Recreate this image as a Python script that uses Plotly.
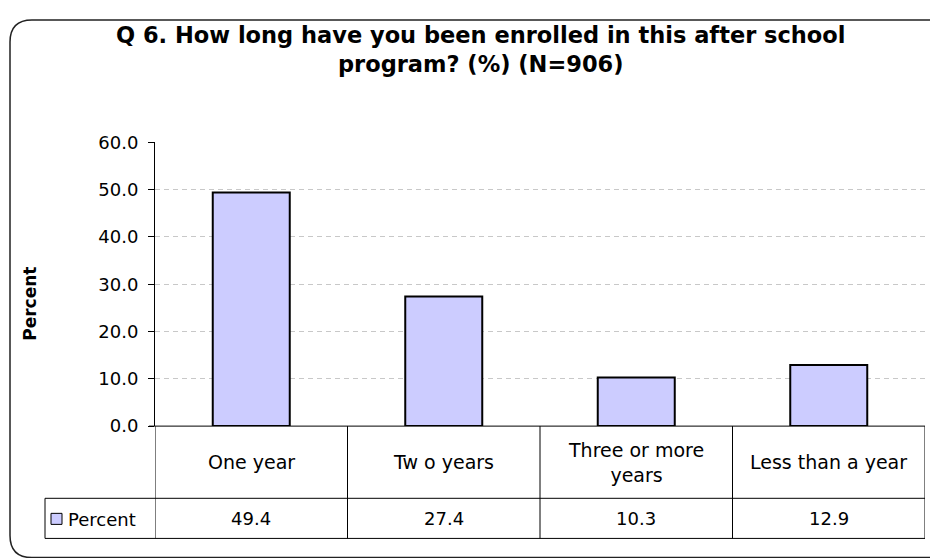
import plotly.graph_objects as go

categories = ["One year", "Two years", "Three or more years", "Less than a year"]
table_labels = ["One year", "Tw o years", "Three or more<br>years", "Less than a year"]
values = [49.4, 27.4, 10.3, 12.9]
series_name = "Percent"
title_text = "Q 6. How long have you been enrolled in this after school<br>program? (%) (N=906)"
y_title = "Percent"

# figure size and calibration of where the figure lands on the page
W, H = 930, 562
OX, OY, SY = 8, 19, 0.96

def px(x):
    return (x - OX) / W

def py(y):
    return 1 - ((y - OY) / SY) / H

FONT = "DejaVu Sans, Liberation Sans, Arial, sans-serif"
BAR_FILL = "#CCCCFF"

x_left, x_right = 155, 925
y_top, y_zero = 142, 425
row1_bottom, row2_bottom = 497, 537
legend_left = 45
n = len(categories)

fig = go.Figure()
fig.add_trace(go.Bar(
    x=list(range(n)), y=values, width=0.4,
    marker=dict(color=BAR_FILL, line=dict(color="black", width=2)),
    name=series_name, showlegend=False, hoverinfo="y",
))

shapes = []
# outer rounded border (right edge runs off the picture)
x0b, y0b, x1b, y1b, r = 10, 20, 950, 556, 22
def P(x, y):
    return f"{px(x)},{py(y)}"
path = (f"M {P(x0b+r,y0b)} L {P(x1b-r,y0b)} Q {P(x1b,y0b)} {P(x1b,y0b+r)} "
        f"L {P(x1b,y1b-r)} Q {P(x1b,y1b)} {P(x1b-r,y1b)} L {P(x0b+r,y1b)} "
        f"Q {P(x0b,y1b)} {P(x0b,y1b-r)} L {P(x0b,y0b+r)} Q {P(x0b,y0b)} {P(x0b+r,y0b)} Z")
shapes.append(dict(type="path", path=path, xref="paper", yref="paper",
                   line=dict(color="#222222", width=1.5), layer="below"))

line_style = dict(color="black", width=1)
for i in range(n + 1):
    shapes.append(dict(type="line", xref="x", yref="paper",
                       x0=i - 0.5, x1=i - 0.5, y0=py(y_zero), y1=py(row2_bottom), line=line_style))
shapes.append(dict(type="line", xref="paper", yref="paper", x0=px(x_left - 6), x1=px(x_right),
                   y0=py(y_zero), y1=py(y_zero), line=line_style))
for yy in (row1_bottom, row2_bottom):
    shapes.append(dict(type="line", xref="paper", yref="paper", x0=px(legend_left), x1=px(x_right),
                       y0=py(yy), y1=py(yy), line=line_style))
shapes.append(dict(type="line", xref="paper", yref="paper", x0=px(legend_left), x1=px(legend_left),
                   y0=py(row1_bottom), y1=py(row2_bottom), line=line_style))
shapes.append(dict(type="rect", xref="paper", yref="paper", x0=px(51), x1=px(62),
                   y0=py(523), y1=py(512), fillcolor=BAR_FILL, line=dict(color="black", width=1)))

annotations = []
annotations.append(dict(text=f"<b>{title_text}</b>", xref="paper", yref="paper", x=px(480), y=py(49),
                        showarrow=False, font=dict(family=FONT, size=22.5, color="black"),
                        xanchor="center", yanchor="middle", align="center"))
annotations.append(dict(text=f"<b>{y_title}</b>", xref="paper", yref="paper", x=px(30), y=py(303),
                        showarrow=False, textangle=-90, font=dict(family=FONT, size=17, color="black"),
                        xanchor="center", yanchor="middle"))
for i, lab in enumerate(table_labels):
    annotations.append(dict(text=lab, xref="x", yref="paper", x=i, y=py((y_zero + row1_bottom) / 2),
                            showarrow=False, font=dict(family=FONT, size=19, color="black"),
                            xanchor="center", yanchor="middle", align="center"))
    annotations.append(dict(text=f"{values[i]:.1f}", xref="x", yref="paper", x=i,
                            y=py((row1_bottom + row2_bottom) / 2),
                            showarrow=False, font=dict(family=FONT, size=18, color="black"),
                            xanchor="center", yanchor="middle"))
annotations.append(dict(text=series_name, xref="paper", yref="paper", x=px(66), y=py(518),
                        showarrow=False, font=dict(family=FONT, size=18, color="black"),
                        xanchor="left", yanchor="middle"))

fig.update_layout(
    width=W, height=H, margin=dict(l=0, r=0, t=0, b=0),
    paper_bgcolor="white", plot_bgcolor="white",
    showlegend=False,
    xaxis=dict(domain=[px(x_left), px(x_right)], range=[-0.5, n - 0.5],
               showticklabels=False, showgrid=False, zeroline=False, showline=False,
               ticks="", fixedrange=True),
    yaxis=dict(domain=[py(y_zero), py(y_top)], range=[0, 60], dtick=10, tickformat=".1f",
               showline=True, linecolor="black", linewidth=1, ticks="outside", ticklen=6,
               tickcolor="black", tickfont=dict(family=FONT, size=18, color="black"),
               showgrid=True, gridcolor="#c8c8c8", gridwidth=1, griddash="5px,4px",
               zeroline=False, fixedrange=True, ticklabelstandoff=6),
    shapes=shapes, annotations=annotations,
)

fig.write_html("out.html")
